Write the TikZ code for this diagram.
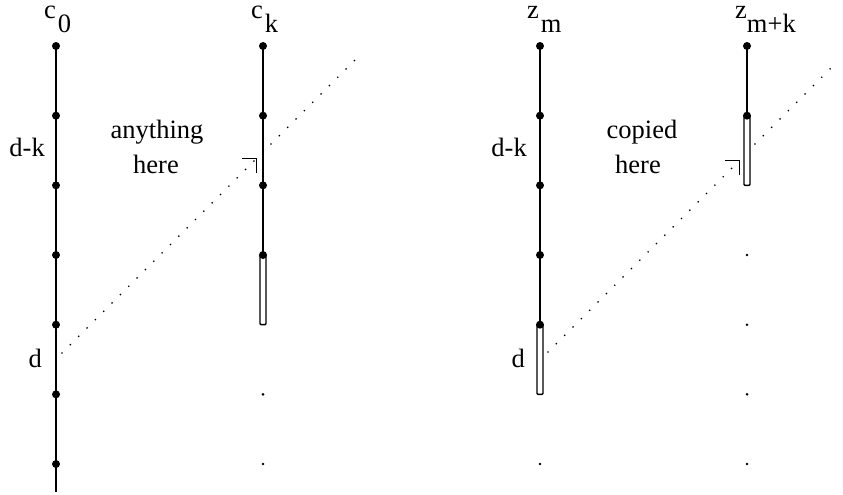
\documentclass[tikz,border=0pt]{standalone}
\usepackage{fontspec}
\setmainfont{Liberation Serif}
\usetikzlibrary{arrows.meta}
\tikzset{
  schrift/.style={font=\fontsize{26.5}{30}\selectfont, inner sep=0pt},
  spalte/.style={line width=2.3pt},
  punkt/.style={circle, fill, inner sep=0pt, minimum size=8pt},
  klein/.style={circle, fill, inner sep=0pt, minimum size=2.8pt},
  schiene/.style={draw, fill=white, line width=1.4pt, rounded corners=1pt},
  gepunktet/.style={line width=1.9pt, dash pattern=on 0pt off 11.8pt, line cap=round},
  pfeil/.style={-{Straight Barb[angle=90:14pt, line width=1.4pt]}}
}

\begin{document}
\begin{tikzpicture}[x=1pt, y=-1pt]
			\useasboundingbox (0,0) rectangle (843,495);

			% Stuetzstellen der vier Spalten
			\foreach \name/\xpos in {c0/56, ck/263, zm/540, zmk/747}
				\foreach \i in {0,...,6}
					\coordinate (\name-\i) at (\xpos, {46+69.67*\i});

			% Spalte c_0
			\coordinate (c0-ende) at (56,492);
			\draw[spalte] (c0-0) -- (c0-ende);
			\foreach \i in {0,...,6} \node[punkt] (p-c0-\i) at (c0-\i) {};
			\node[schrift, anchor=base west] (l-c0) at (44,19) {c\hspace{2pt}\raisebox{-14pt}{0}};
			\node[schrift, anchor=base east] (l-c0-dk) at (45,156) {d-k};
			\node[schrift, anchor=base east] (l-c0-d) at (42,367) {d};

			% Spalte c_k
			\draw[spalte] (ck-0) -- (ck-3);
			\draw[schiene] ([xshift=-3pt]ck-3) rectangle ([xshift=3pt]ck-4);
			\foreach \i in {0,...,3} \node[punkt] (p-ck-\i) at (ck-\i) {};
			\foreach \i in {5,6} \node[klein] (p-ck-\i) at (ck-\i) {};
			\node[schrift, anchor=base west] (l-ck) at (251,19) {c\hspace{2pt}\raisebox{-14pt}{k}};

			% Spalte z_m
			\draw[spalte] (zm-0) -- (zm-4);
			\draw[schiene] ([xshift=-3pt]zm-4) rectangle ([xshift=3pt]zm-5);
			\foreach \i in {0,...,4} \node[punkt] (p-zm-\i) at (zm-\i) {};
			\node[klein] (p-zm-6) at (zm-6) {};
			\node[schrift, anchor=base west] (l-zm) at (527,19) {z\hspace{2pt}\raisebox{-14pt}{m}};
			\node[schrift, anchor=base east] (l-zm-dk) at (527,156) {d-k};
			\node[schrift, anchor=base east] (l-zm-d) at (525,367) {d};

			% Spalte z_{m+k}
			\draw[spalte] (zmk-0) -- (zmk-1);
			\draw[schiene] ([xshift=-3pt]zmk-1) rectangle ([xshift=3pt]zmk-2);
			\foreach \i in {0,1} \node[punkt] (p-zmk-\i) at (zmk-\i) {};
			\foreach \i in {3,...,6} \node[klein] (p-zmk-\i) at (zmk-\i) {};
			\node[schrift, anchor=base west] (l-zmk) at (735,19) {z\hspace{0pt}\raisebox{-14pt}{m+k}};

			% Beschriftung zwischen den Spalten
			\node[schrift, anchor=base] (t-anything) at (157,138) {anything};
			\node[schrift, anchor=base] (t-here-l) at (156,173) {here};
			\node[schrift, anchor=base] (t-copied) at (642,138) {copied};
			\node[schrift, anchor=base] (t-here-r) at (638,173) {here};

			% gepunktete Pfeile
			\coordinate (s-links) at (62,353);
			\coordinate (t-links) at (257,158);
			\coordinate (w-links) at (271,144);
			\coordinate (e-links) at (362,53);
			\draw[gepunktet, pfeil] (s-links) -- (t-links);
			\draw[gepunktet] (w-links) -- (e-links);

			\coordinate (s-rechts) at (548,352);
			\coordinate (t-rechts) at (740,160);
			\coordinate (w-rechts) at (755,144);
			\coordinate (e-rechts) at (837,62);
			\draw[gepunktet, pfeil] (s-rechts) -- (t-rechts);
			\draw[gepunktet] (w-rechts) -- (e-rechts);
		\end{tikzpicture}
\end{document}
